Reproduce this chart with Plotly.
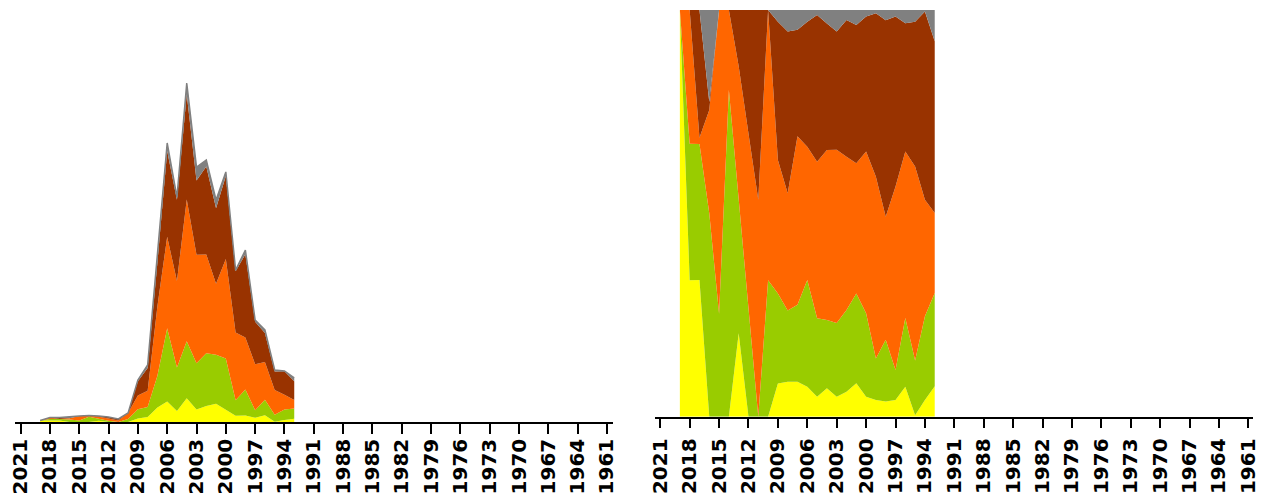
import plotly.graph_objects as go

years = [2019, 2018, 2017, 2016, 2015, 2014, 2013, 2012, 2011, 2010,
         2009, 2008, 2007, 2006, 2005, 2004, 2003, 2002, 2001, 2000,
         1999, 1998, 1997, 1996, 1995, 1994, 1993]

yellow = [1.5, 1.51, 1.51, 0, 0, 0, 1.23, 0, 0, 0,
          3.44, 4.9, 14.4, 20.6, 11.0, 23.7, 12.5, 16.0, 18.2, 12.3,
          6.2, 6.4, 4.2, 6.8, 0.2, 2.1, 3.3]
green = [0, 1.51, 1.50, 2.5, 1.52, 5.22, 1.98, 1.34, 0, 3.02,
         9.28, 10.0, 31.8, 73.1, 43.4, 57.0, 46.2, 52.7, 49.1, 51.3,
         15.5, 26.1, 7.5, 15.5, 7.0, 10.5, 10.1]
orange = [0, 1.48, 0.07, 1.27, 4.48, 1.28, 1.96, 2.15, 1.6, 5.98,
          13.78, 16.4, 69.6, 91.5, 86.6, 141.7, 108.6, 98.8, 71.0, 99.5,
          67.9, 52.1, 46.0, 37.7, 24.8, 14.6, 8.7]
brown = [0, 0, 1.41, 0.1, 0, 0, 0.83, 1.52, 1.4, 0,
         14.28, 22.7, 44.0, 85.7, 81.2, 105.4, 74.2, 88.0, 75.5, 83.0,
         61.1, 83.1, 42.6, 29.0, 18.5, 23.6, 18.6]
gray = [0, 0, 0, 1.13, 0, 0, 0, 0, 0, 0,
        1.22, 3.0, 8.2, 8.1, 2.7, 11.2, 13.5, 6.5, 8.2, 4.0,
        1.2, 4.3, 1.6, 3.0, 1.5, 0.2, 3.4]

tick_years = list(range(2021, 1960, -3))
tick_labels = [str(y) for y in tick_years]

series = [
    ("yellow", yellow, "#FFFF00"),
    ("green", green, "#99CC00"),
    ("orange", orange, "#FF6600"),
    ("brown", brown, "#993300"),
    ("gray", gray, "#808080"),
]

fig = go.Figure()
for name, vals, col in series:
    is_gray = name == "gray"
    fig.add_trace(go.Scatter(
        x=years, y=vals, name=name, stackgroup="abs",
        mode="lines" if is_gray else "none",
        line=dict(color=col, width=1.5 if is_gray else 0),
        fillcolor=col, xaxis="x", yaxis="y", showlegend=False,
        hoverinfo="skip"))
for name, vals, col in series:
    fig.add_trace(go.Scatter(
        x=years, y=vals, name=name, stackgroup="pct", groupnorm="percent",
        mode="none", fillcolor=col, xaxis="x2", yaxis="y2",
        showlegend=False, hoverinfo="skip"))

xcommon = dict(
    showline=True, linecolor="black", linewidth=1.5,
    ticks="outside", ticklen=10, tickwidth=2, tickcolor="black",
    tickmode="array", tickvals=tick_years, ticktext=tick_labels,
    tickangle=-90, showgrid=False, zeroline=False,
    tickfont=dict(family="DejaVu Sans", size=20, color="black", weight="bold"),
)

fig.update_layout(
    width=1286, height=502,
    margin=dict(l=0, r=0, t=10, b=80),
    paper_bgcolor="white", plot_bgcolor="white",
    xaxis=dict(domain=[7/1286, 612/1286], range=[2021.58, 1960.4],
               anchor="y", ticklabelstandoff=-3, **xcommon),
    yaxis=dict(domain=[0, 1], range=[0, 412], visible=False),
    xaxis2=dict(domain=[655/1286, 1260/1286], range=[2021.5, 1960.5],
                anchor="y2", ticklabelstandoff=2, **xcommon),
    yaxis2=dict(domain=[(422 - 416.7) / 412, 1], range=[0, 100], visible=False),
)

fig.write_html(
    "out.html",
    config={"displayModeBar": False},
    post_script="document.body.style.margin='0';document.body.style.overflow='hidden';",
)
